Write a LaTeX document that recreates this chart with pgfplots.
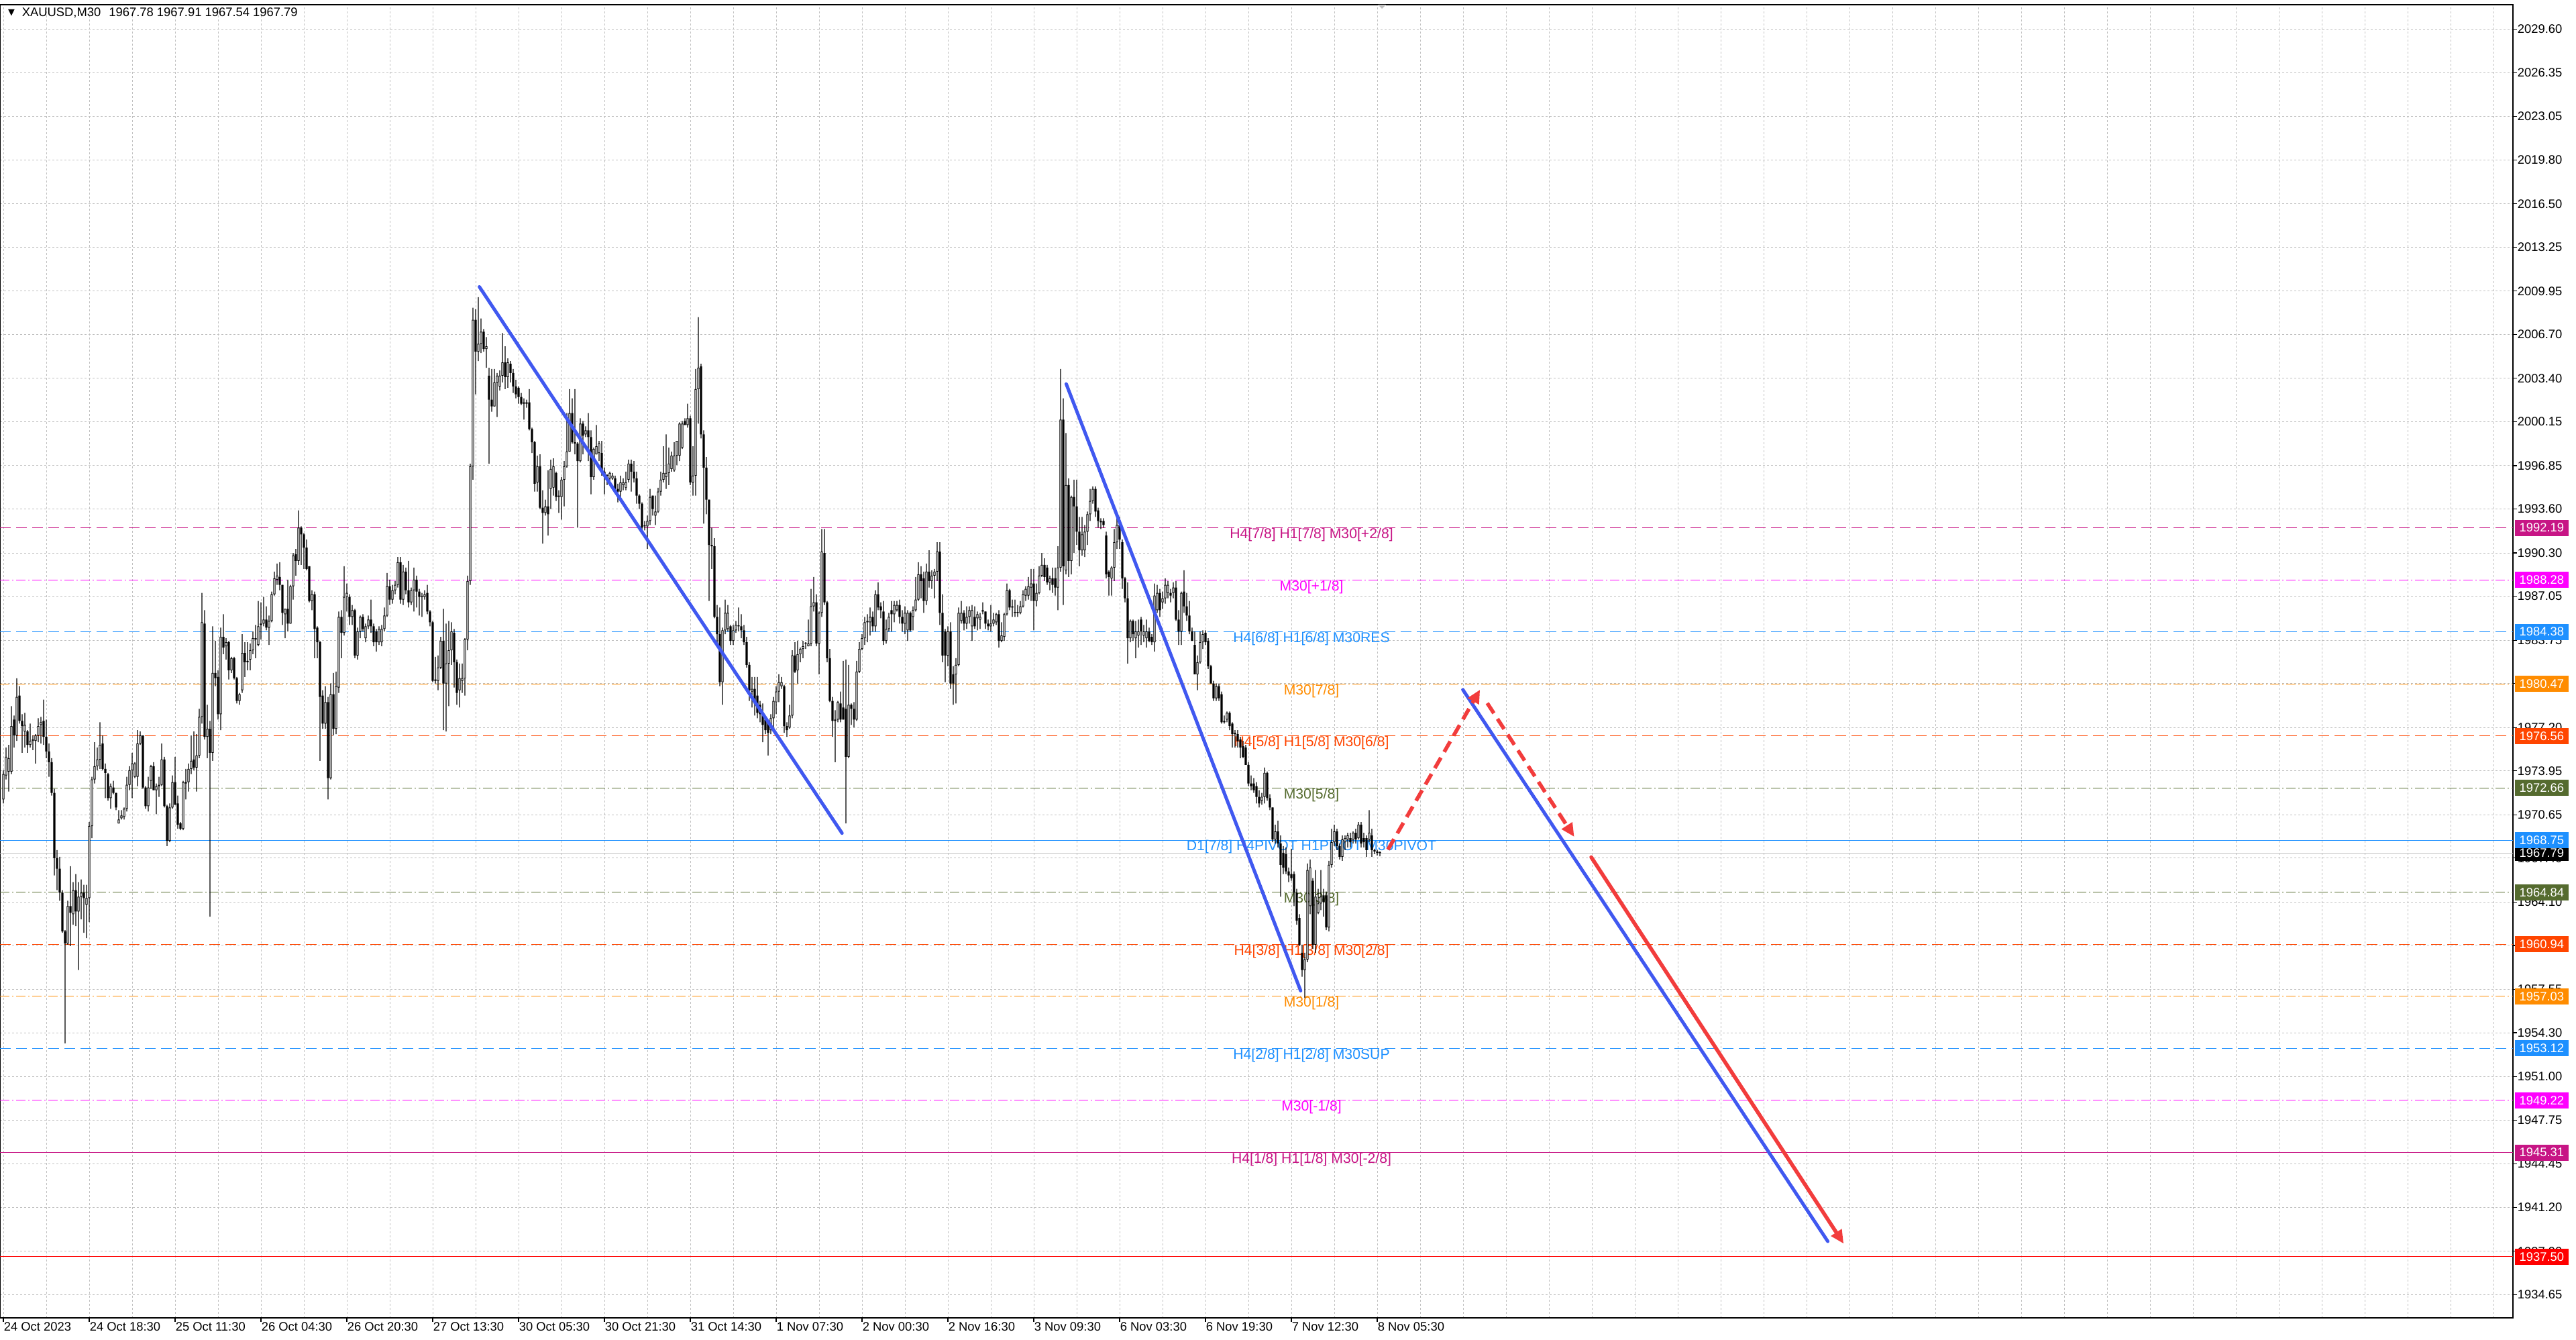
\documentclass[border=0pt]{standalone}
\usepackage{fontspec}
\setmainfont{Liberation Sans}
\newfontfamily\symfont{DejaVu Sans}
\usepackage{pgfplots}
\pgfplotsset{compat=1.18}
\usepackage{pgfplotstable}
\usetikzlibrary{arrows.meta}
\definecolor{mvr}{RGB}{199,21,133}
\definecolor{mag}{RGB}{255,0,255}
\definecolor{dblue}{RGB}{30,144,255}
\definecolor{dorange}{RGB}{255,140,0}
\definecolor{ored}{RGB}{255,69,0}
\definecolor{lvlolive}{RGB}{85,107,47}
\definecolor{silver}{RGB}{192,192,192}
\definecolor{tlblue}{RGB}{64,88,240}
\definecolor{tlred}{RGB}{242,60,60}
\newcommand\tf{\fontsize{4.6}{5}\selectfont}
\newcommand\lf{\fontsize{5.3}{6}\selectfont}
\pgfplotsset{frame/.style={at={(0pt,8pt)}, anchor=south west, scale only axis, width=936.5pt, height=489.25pt,
  xmin=-1.25, xmax=935.25, ymin=1932.90, ymax=2031.44, clip=false}}
\pgfplotstableread{
i o h l c
0 1971.8 1974.0 1971.5 1973.7
1 1973.6 1975.7 1973.3 1975.0
2 1973.9 1975.9 1972.4 1974.9
3 1973.9 1978.8 1973.7 1977.3
4 1977.8 1978.1 1975.7 1976.6
5 1976.6 1980.9 1976.2 1979.5
6 1979.6 1980.3 1977.5 1977.7
7 1977.7 1978.2 1975.3 1977.3
8 1976.9 1978.3 1975.7 1977.4
9 1976.9 1977.0 1975.3 1975.9
10 1975.9 1977.5 1975.7 1976.2
11 1976.2 1976.6 1975.5 1976.3
12 1976.2 1976.7 1974.5 1976.6
13 1976.6 1977.9 1976.1 1977.3
14 1977.4 1978.0 1976.0 1977.6
15 1977.7 1979.3 1975.9 1976.5
16 1976.5 1977.8 1974.9 1975.4
17 1975.4 1976.0 1973.5 1974.6
18 1974.6 1974.9 1972.1 1972.3
19 1972.3 1972.6 1966.1 1967.4
20 1967.4 1968.0 1965.0 1966.6
21 1966.6 1967.5 1964.2 1964.8
22 1964.8 1965.0 1961.8 1961.9
23 1961.9 1962.0 1953.5 1961.0
24 1961.0 1964.2 1960.9 1963.8
25 1963.8 1966.8 1960.8 1963.3
26 1963.2 1965.6 1962.4 1965.0
27 1965.0 1966.2 1962.3 1963.4
28 1963.4 1965.6 1959.0 1964.5
29 1964.5 1965.8 1962.8 1964.8
30 1964.8 1965.4 1961.8 1964.4
31 1963.9 1965.4 1961.4 1964.4
32 1964.4 1970.1 1962.6 1969.8
33 1969.8 1973.5 1968.9 1973.3
34 1973.3 1976.1 1973.0 1974.3
35 1974.3 1975.7 1974.0 1974.8
36 1974.8 1977.6 1974.1 1975.9
37 1976.0 1976.6 1974.0 1974.1
38 1974.1 1974.5 1971.9 1973.8
39 1973.7 1973.8 1971.7 1971.9
40 1971.9 1973.0 1971.1 1972.8
41 1972.7 1973.2 1972.2 1972.3
42 1972.3 1972.3 1971.0 1971.2
43 1970.0 1971.0 1970.0 1970.3
44 1970.4 1971.0 1970.3 1970.6
45 1970.5 1971.2 1970.3 1971.1
46 1971.1 1973.5 1970.9 1972.9
47 1972.9 1974.3 1972.5 1974.0
48 1974.0 1975.3 1971.9 1974.5
49 1973.5 1974.6 1973.4 1974.5
50 1973.5 1977.0 1972.8 1976.0
51 1976.0 1976.9 1975.9 1976.6
52 1976.6 1976.6 1972.6 1972.7
53 1972.7 1972.8 1971.1 1971.3
54 1971.3 1973.5 1970.9 1972.7
55 1973.2 1974.4 1972.6 1974.3
56 1974.3 1974.6 1972.5 1972.5
57 1972.5 1973.0 1970.7 1972.8
58 1972.8 1973.5 1972.0 1972.9
59 1972.9 1976.0 1972.8 1974.8
60 1974.8 1975.0 1971.2 1971.3
61 1971.3 1971.4 1968.3 1968.7
62 1968.7 1971.5 1968.6 1971.2
63 1971.2 1973.6 1971.1 1973.1
64 1973.1 1975.0 1971.4 1971.4
65 1971.5 1972.1 1969.6 1969.9
66 1970.0 1970.1 1969.5 1969.6
67 1969.6 1973.2 1969.5 1973.1
68 1973.0 1974.1 1971.8 1973.1
69 1973.1 1974.5 1972.4 1974.1
70 1974.1 1976.6 1973.7 1974.7
71 1974.8 1976.9 1974.0 1974.2
72 1974.2 1976.7 1972.4 1975.1
73 1975.1 1978.6 1974.9 1978.0
74 1978.0 1987.3 1977.5 1985.1
75 1985.0 1986.0 1976.3 1976.5
76 1976.5 1978.9 1974.9 1977.1
77 1977.1 1977.7 1963.0 1975.3
78 1975.3 1984.8 1974.7 1981.3
79 1981.3 1983.7 1980.3 1980.9
80 1981.0 1981.5 1977.8 1978.2
81 1978.2 1984.7 1977.0 1984.0
82 1984.0 1985.7 1982.7 1983.2
83 1983.3 1983.9 1982.3 1983.6
84 1983.6 1983.7 1980.8 1981.5
85 1981.5 1982.5 1981.3 1982.4
86 1982.4 1982.5 1980.8 1980.9
87 1980.9 1981.0 1979.0 1979.2
88 1979.2 1979.8 1978.9 1979.7
89 1980.0 1984.2 1979.8 1982.8
90 1982.8 1983.6 1981.0 1982.1
91 1982.1 1983.6 1981.5 1982.2
92 1982.3 1983.5 1981.5 1983.0
93 1983.0 1984.4 1982.7 1983.9
94 1983.8 1984.9 1982.4 1983.9
95 1983.4 1986.7 1983.3 1984.8
96 1984.9 1986.6 1983.8 1985.0
97 1985.0 1987.0 1984.8 1985.3
98 1985.3 1986.3 1984.5 1984.7
99 1984.7 1985.6 1983.4 1985.2
100 1985.2 1987.4 1985.1 1987.2
101 1987.2 1988.9 1987.1 1988.4
102 1988.3 1989.5 1987.9 1988.6
103 1988.5 1989.6 1987.5 1987.9
104 1987.9 1987.9 1984.9 1985.8
105 1985.7 1986.1 1983.9 1986.1
106 1986.1 1988.3 1984.4 1985.0
107 1985.0 1987.9 1985.0 1987.8
108 1987.8 1990.3 1986.8 1990.1
109 1990.2 1990.6 1988.6 1989.7
110 1989.7 1993.5 1989.4 1992.2
111 1992.2 1992.3 1989.4 1991.7
112 1991.7 1991.8 1989.1 1990.7
113 1990.7 1991.3 1989.0 1989.1
114 1989.3 1989.3 1986.6 1986.7
115 1986.7 1987.5 1986.0 1987.2
116 1987.2 1987.4 1982.4 1984.6
117 1984.7 1984.8 1982.4 1983.6
118 1983.6 1983.7 1974.7 1979.5
119 1979.6 1980.0 1977.1 1977.5
120 1977.5 1980.3 1977.1 1979.1
121 1979.1 1979.5 1971.8 1973.4
122 1973.4 1980.5 1973.3 1979.7
123 1979.7 1981.3 1976.6 1977.1
124 1977.1 1981.4 1976.7 1980.3
125 1980.2 1985.9 1979.8 1985.5
126 1985.5 1986.0 1982.4 1984.3
127 1984.3 1989.3 1984.1 1987.0
128 1987.0 1988.0 1985.9 1987.3
129 1987.0 1987.2 1984.9 1985.5
130 1985.5 1986.4 1984.9 1986.0
131 1986.0 1986.1 1982.4 1982.6
132 1982.6 1984.7 1982.3 1984.4
133 1984.4 1985.6 1983.9 1985.5
134 1985.5 1985.7 1984.4 1984.6
135 1983.9 1985.0 1983.6 1984.8
136 1984.8 1985.6 1984.6 1985.3
137 1985.3 1986.8 1984.3 1984.8
138 1984.8 1985.0 1983.3 1983.6
139 1984.4 1984.6 1982.9 1983.6
140 1983.6 1984.8 1983.4 1984.6
141 1983.6 1984.9 1983.3 1984.6
142 1984.6 1986.2 1984.4 1985.6
143 1985.6 1988.8 1985.5 1987.8
144 1987.8 1988.3 1986.4 1986.8
145 1986.8 1987.9 1986.5 1987.5
146 1987.5 1988.2 1987.2 1987.9
147 1987.9 1990.0 1987.7 1989.6
148 1989.6 1990.0 1986.5 1986.8
149 1986.8 1989.4 1986.4 1988.9
150 1988.9 1989.2 1987.2 1987.5
151 1987.5 1989.7 1986.2 1986.6
152 1986.6 1987.7 1986.4 1987.5
153 1987.5 1989.2 1985.9 1988.3
154 1988.3 1988.6 1986.2 1987.4
155 1987.4 1987.6 1985.6 1987.0
156 1987.0 1987.3 1985.5 1987.0
157 1987.0 1987.5 1986.8 1987.2
158 1987.3 1987.9 1985.7 1985.9
159 1985.9 1986.0 1984.8 1985.1
160 1985.1 1985.2 1980.6 1980.7
161 1980.7 1982.5 1980.5 1980.8
162 1980.7 1982.6 1980.0 1981.7
163 1981.7 1984.0 1981.6 1983.7
164 1983.7 1986.1 1977.0 1980.5
165 1980.5 1985.0 1976.9 1982.0
166 1982.0 1985.2 1978.8 1983.0
167 1983.0 1985.1 1981.9 1984.4
168 1984.3 1984.6 1980.2 1982.1
169 1982.1 1982.3 1978.9 1979.8
170 1980.0 1982.0 1978.7 1980.9
171 1980.7 1982.0 1979.8 1980.9
172 1980.9 1983.9 1979.6 1983.8
173 1983.8 1988.6 1983.0 1988.2
174 1988.2 1997.0 1987.9 1996.8
175 1996.8 2008.7 1995.8 2007.8
176 2007.8 2008.6 2002.2 2005.4
177 2005.4 2009.5 2004.7 2006.0
178 2006.0 2007.9 2005.3 2006.9
179 2006.9 2007.1 2005.4 2005.6
180 2005.6 2006.5 2004.2 2005.8
181 2003.6 2004.2 1997.0 2001.8
182 2001.8 2004.1 2000.9 2001.3
183 2001.3 2004.1 2001.3 2003.1
184 2003.1 2003.8 2000.5 2003.6
185 2002.8 2004.0 2002.5 2003.6
186 2003.6 2006.8 2003.1 2004.6
187 2004.6 2005.8 2002.6 2003.5
188 2003.5 2004.9 2002.7 2004.6
189 2004.5 2004.7 2003.1 2003.8
190 2003.8 2004.1 2002.3 2002.8
191 2002.8 2003.3 2001.9 2002.2
192 2002.7 2002.8 2001.5 2002.0
193 2002.0 2002.3 2001.4 2001.5
194 2001.6 2001.9 2000.3 2001.5
195 2001.5 2001.8 2001.2 2001.6
196 2001.6 2002.6 1999.5 1999.6
197 1999.6 1999.7 1997.8 1998.6
198 1998.6 1998.7 1994.9 1995.5
199 1995.6 1997.6 1994.9 1996.8
200 1996.8 1997.7 1993.6 1993.7
201 1993.7 1995.0 1991.0 1993.3
202 1993.3 1994.3 1993.1 1993.8
203 1993.8 1996.5 1991.6 1993.2
204 1995.1 1997.3 1993.6 1996.6
205 1995.2 1997.4 1994.6 1996.8
206 1996.3 1996.4 1994.2 1994.5
207 1994.5 1995.0 1993.3 1994.6
208 1994.5 1996.0 1992.8 1995.8
209 1995.8 1997.2 1993.8 1996.8
210 1996.8 2000.8 1996.7 1997.9
211 1997.9 2002.6 1997.9 2000.8
212 2000.8 2001.9 1998.5 1998.6
213 1998.6 2002.6 1997.7 1998.5
214 1998.5 1998.6 1992.2 1997.2
215 1997.2 2000.4 1997.1 2000.0
216 2000.0 2000.2 1997.7 1999.1
217 1999.2 1999.8 1999.0 1999.5
218 1999.5 2000.8 1997.2 1999.0
219 1999.0 1999.5 1994.7 1996.0
220 1996.0 1998.2 1995.8 1998.1
221 1997.7 1999.9 1997.7 1998.3
222 1997.8 1998.7 1997.2 1998.5
223 1997.8 1998.7 1996.1 1996.4
224 1996.4 1996.7 1994.7 1996.1
225 1996.1 1996.2 1995.4 1996.1
226 1995.9 1996.4 1995.6 1996.3
227 1995.9 1996.3 1995.8 1996.1
228 1995.9 1996.1 1995.0 1995.1
229 1995.1 1995.5 1994.1 1994.9
230 1994.9 1996.1 1994.3 1995.6
231 1995.4 1995.9 1995.0 1995.6
232 1995.2 1996.4 1995.0 1995.6
233 1995.8 1997.3 1995.6 1997.0
234 1997.0 1997.3 1994.9 1996.4
235 1996.4 1997.2 1995.6 1995.9
236 1995.9 1996.4 1994.0 1994.6
237 1994.6 1994.7 1993.6 1994.0
238 1994.0 1994.1 1992.0 1992.2
239 1992.3 1992.7 1992.0 1992.3
240 1992.3 1993.1 1990.6 1992.7
241 1992.7 1995.1 1992.4 1994.5
242 1994.6 1994.6 1993.1 1993.6
243 1993.1 1994.6 1992.4 1993.4
244 1993.4 1995.2 1993.3 1994.9
245 1994.9 1996.4 1994.6 1995.8
246 1995.8 1998.3 1995.6 1996.3
247 1996.0 1999.2 1995.1 1996.3
248 1996.3 1998.2 1995.4 1997.0
249 1996.6 1997.9 1996.4 1997.6
250 1996.5 1998.6 1996.4 1997.6
251 1997.6 1998.7 1996.9 1998.7
252 1997.6 2000.1 1997.2 2000.0
253 1998.2 2000.2 1998.1 2000.0
254 2000.2 2000.4 1999.9 1999.9
255 1999.9 2001.5 1999.7 2000.4
256 2000.4 2000.6 1995.4 1995.6
257 1995.6 1998.3 1994.6 1996.1
258 1996.1 2004.1 1994.6 2002.6
259 2002.6 2008.0 2000.0 2004.2
260 2004.3 2004.5 1998.9 1999.2
261 1999.2 1999.5 1992.5 1996.7
262 1996.7 1997.5 1993.2 1994.3
263 1994.3 1994.3 1986.7 1990.9
264 1990.9 1992.2 1989.1 1990.8
265 1990.8 1991.4 1985.4 1985.5
266 1985.5 1986.4 1983.4 1984.2
267 1984.2 1986.2 1980.3 1980.6
268 1980.6 1984.7 1978.9 1984.5
269 1984.5 1986.8 1984.2 1985.8
270 1984.6 1986.4 1984.4 1985.8
271 1984.8 1984.9 1983.4 1983.7
272 1983.7 1984.9 1983.4 1984.5
273 1984.5 1985.2 1984.3 1984.9
274 1984.8 1986.2 1984.4 1984.8
275 1984.8 1985.7 1983.9 1984.5
276 1984.5 1984.9 1983.4 1983.6
277 1983.6 1984.0 1981.7 1981.9
278 1981.9 1982.1 1979.2 1980.0
279 1979.9 1981.0 1978.7 1980.1
280 1980.1 1981.0 1978.1 1979.0
281 1979.6 1981.0 1977.9 1978.3
282 1978.9 1979.2 1977.6 1978.2
283 1978.3 1979.0 1976.1 1977.4
284 1977.8 1977.9 1976.7 1977.0
285 1977.7 1977.7 1975.1 1976.8
286 1977.0 1978.2 1976.7 1977.9
287 1977.9 1979.5 1977.2 1979.2
288 1979.1 1980.3 1978.2 1979.9
289 1979.9 1981.2 1979.1 1980.6
290 1980.3 1981.0 1980.1 1980.6
291 1980.3 1980.4 1976.8 1977.3
292 1977.3 1977.6 1976.5 1977.0
293 1977.2 1978.9 1977.1 1978.1
294 1978.1 1983.0 1977.9 1982.6
295 1982.6 1983.6 1981.3 1981.4
296 1981.5 1983.7 1980.5 1982.7
297 1982.7 1983.2 1982.1 1983.1
298 1983.1 1983.7 1982.4 1983.3
299 1983.5 1983.6 1983.1 1983.5
300 1983.3 1985.3 1983.3 1983.5
301 1983.5 1987.6 1983.3 1986.3
302 1986.3 1988.5 1985.9 1986.6
303 1986.6 1987.2 1983.3 1983.5
304 1983.5 1985.9 1981.2 1985.8
305 1985.8 1992.1 1985.5 1990.4
306 1990.3 1992.1 1986.4 1986.6
307 1986.6 1986.7 1982.1 1982.4
308 1982.4 1983.1 1979.1 1979.2
309 1979.2 1979.5 1976.5 1977.7
310 1977.7 1978.5 1974.6 1977.8
311 1977.8 1979.2 1977.6 1979.1
312 1979.0 1979.9 1977.6 1977.8
313 1978.7 1982.2 1977.8 1977.8
314 1978.6 1982.3 1970.0 1975.0
315 1975.0 1981.9 1974.9 1978.9
316 1978.9 1979.0 1977.4 1978.6
317 1978.6 1979.1 1977.2 1977.8
318 1977.8 1982.2 1977.7 1981.4
319 1981.4 1983.6 1981.3 1983.1
320 1983.1 1984.2 1983.0 1983.9
321 1983.9 1985.5 1983.4 1985.1
322 1985.1 1985.7 1983.6 1985.2
323 1985.1 1986.2 1984.1 1985.5
324 1985.5 1985.9 1984.4 1984.8
325 1984.8 1987.5 1984.4 1987.2
326 1987.2 1988.1 1986.0 1986.2
327 1986.3 1986.6 1985.4 1986.0
328 1985.9 1986.7 1983.4 1983.7
329 1983.7 1985.3 1983.5 1984.6
330 1984.6 1985.8 1984.4 1985.5
331 1986.0 1986.7 1984.4 1985.7
332 1985.7 1986.7 1985.1 1986.4
333 1986.0 1986.7 1985.9 1986.4
334 1986.4 1986.8 1985.0 1985.5
335 1985.5 1986.0 1984.4 1985.0
336 1985.0 1986.3 1984.2 1985.8
337 1984.5 1986.0 1983.7 1985.8
338 1985.8 1985.9 1984.4 1984.5
339 1985.5 1986.3 1984.5 1986.0
340 1986.0 1988.5 1985.9 1986.8
341 1986.8 1989.6 1986.7 1988.7
342 1988.7 1989.3 1986.9 1988.2
343 1988.4 1988.9 1985.8 1986.7
344 1986.7 1989.5 1986.4 1988.9
345 1988.9 1990.5 1987.7 1988.2
346 1988.2 1989.0 1987.6 1988.6
347 1988.6 1989.1 1986.9 1988.9
348 1988.9 1991.1 1988.2 1990.4
349 1990.4 1991.1 1984.9 1985.8
350 1985.8 1987.2 1982.1 1982.6
351 1984.4 1984.6 1980.6 1982.6
352 1982.6 1984.8 1981.8 1984.4
353 1984.4 1985.1 1980.1 1980.5
354 1981.2 1981.8 1978.9 1980.5
355 1981.2 1982.4 1979.0 1981.9
356 1981.9 1986.2 1981.8 1985.8
357 1985.2 1986.7 1985.0 1985.8
358 1985.8 1986.0 1984.5 1985.0
359 1985.0 1986.3 1984.6 1985.5
360 1985.5 1986.3 1985.0 1986.0
361 1984.8 1986.4 1983.7 1986.0
362 1985.5 1986.3 1984.6 1984.8
363 1985.4 1985.9 1984.5 1985.7
364 1985.3 1985.8 1984.6 1985.5
365 1986.0 1986.6 1985.7 1985.9
366 1985.9 1985.9 1984.6 1985.0
367 1985.0 1985.3 1984.5 1984.8
368 1984.8 1986.4 1984.4 1985.0
369 1985.0 1985.8 1984.8 1985.3
370 1985.1 1985.8 1984.9 1985.7
371 1985.7 1986.0 1983.2 1983.7
372 1983.7 1985.1 1983.6 1984.1
373 1984.0 1985.8 1983.7 1985.7
374 1985.7 1988.0 1985.6 1987.5
375 1987.5 1987.6 1986.0 1986.2
376 1986.3 1986.8 1985.5 1986.2
377 1985.8 1986.8 1985.5 1985.8
378 1985.8 1986.4 1985.5 1985.8
379 1985.8 1986.7 1985.7 1986.3
380 1986.3 1987.5 1986.2 1987.2
381 1987.1 1987.8 1986.7 1987.6
382 1987.1 1988.5 1986.8 1987.8
383 1987.7 1989.1 1986.7 1988.0
384 1988.0 1989.1 1984.5 1986.7
385 1986.7 1988.0 1986.3 1987.3
386 1987.3 1989.3 1987.2 1988.6
387 1988.6 1990.3 1988.5 1989.4
388 1989.4 1989.9 1988.2 1988.5
389 1989.2 1989.4 1987.9 1988.1
390 1988.1 1988.6 1987.5 1988.4
391 1988.4 1989.2 1987.3 1987.9
392 1988.4 1989.2 1987.1 1987.7
393 1987.7 1990.8 1986.0 1989.2
394 1989.2 2004.1 1988.9 2000.3
395 2000.3 2001.9 1986.4 1989.3
396 1989.0 1999.3 1988.7 1995.4
397 1995.4 1995.9 1988.5 1989.7
398 1989.7 1994.6 1988.7 1994.5
399 1994.5 1995.8 1990.3 1993.8
400 1993.8 1995.8 1990.9 1991.9
401 1991.9 1993.0 1989.3 1990.5
402 1990.5 1993.0 1990.1 1991.7
403 1990.5 1992.4 1990.0 1991.9
404 1991.9 1993.4 1990.9 1993.2
405 1993.2 1995.1 1992.7 1994.2
406 1994.2 1995.3 1994.0 1995.1
407 1995.1 1995.3 1993.0 1993.4
408 1993.5 1993.7 1992.2 1992.7
409 1992.7 1992.9 1992.1 1992.6
410 1992.7 1992.9 1992.2 1992.4
411 1991.6 1991.9 1988.4 1988.7
412 1988.9 1989.0 1987.1 1988.5
413 1988.4 1989.3 1987.1 1989.2
414 1989.2 1992.1 1988.2 1991.1
415 1991.1 1992.9 1990.6 1992.4
416 1992.4 1993.0 1990.6 1991.3
417 1991.1 1991.3 1987.6 1988.4
418 1988.4 1988.5 1986.6 1986.9
419 1986.9 1988.1 1982.0 1983.9
420 1983.9 1985.3 1983.6 1985.2
421 1985.2 1985.3 1983.7 1984.2
422 1983.9 1985.2 1982.4 1984.4
423 1984.1 1985.3 1983.2 1984.4
424 1985.3 1985.5 1983.4 1984.4
425 1984.1 1984.9 1983.6 1984.4
426 1983.9 1985.3 1983.2 1984.4
427 1984.4 1984.7 1983.6 1983.7
428 1984.0 1984.2 1983.4 1983.6
429 1983.6 1988.0 1982.9 1987.1
430 1986.0 1987.9 1985.8 1987.3
431 1987.3 1987.6 1985.5 1986.0
432 1986.6 1987.4 1986.1 1986.9
433 1986.9 1988.4 1986.5 1987.9
434 1987.3 1988.2 1986.9 1987.9
435 1987.3 1987.6 1986.6 1987.1
436 1987.3 1988.1 1986.9 1987.7
437 1987.7 1988.2 1985.2 1985.3
438 1985.3 1986.0 1983.4 1984.4
439 1984.4 1987.4 1983.4 1987.3
440 1987.4 1989.0 1985.8 1986.3
441 1986.3 1987.3 1985.2 1985.6
442 1985.6 1986.7 1984.2 1984.4
443 1984.4 1984.7 1983.7 1983.7
444 1983.4 1984.4 1981.2 1981.2
445 1981.2 1982.6 1980.0 1982.1
446 1982.1 1984.4 1982.0 1983.6
447 1983.6 1984.5 1983.1 1984.2
448 1984.3 1984.5 1983.4 1983.6
449 1983.7 1983.9 1981.6 1981.8
450 1981.8 1981.9 1980.5 1980.5
451 1980.5 1980.7 1979.2 1979.4
452 1979.4 1980.5 1979.2 1980.3
453 1980.3 1980.5 1979.2 1979.4
454 1979.7 1979.9 1977.5 1977.6
455 1977.7 1978.1 1977.5 1977.6
456 1977.8 1978.4 1977.6 1978.3
457 1978.3 1978.4 1977.0 1977.3
458 1977.5 1977.6 1975.7 1976.7
459 1976.8 1977.0 1975.7 1976.7
460 1976.7 1977.0 1975.7 1976.2
461 1976.3 1976.5 1974.9 1975.7
462 1975.8 1976.2 1974.9 1975.0
463 1975.7 1975.9 1974.4 1974.4
464 1974.4 1974.6 1972.8 1973.0
465 1973.0 1973.6 1972.5 1972.8
466 1973.0 1973.4 1972.3 1972.5
467 1972.8 1973.1 1971.5 1972.0
468 1972.0 1972.5 1971.2 1971.5
469 1971.7 1972.3 1971.4 1972.0
470 1972.0 1974.2 1971.5 1973.8
471 1973.8 1973.9 1971.7 1971.9
472 1971.9 1972.2 1971.0 1971.2
473 1971.2 1971.2 1968.6 1968.8
474 1968.8 1969.9 1968.5 1969.4
475 1969.4 1970.2 1968.2 1968.5
476 1968.5 1969.1 1964.5 1966.9
477 1967.8 1968.3 1966.2 1966.7
478 1967.7 1968.2 1966.2 1966.4
479 1966.4 1966.7 1965.6 1966.1
480 1966.2 1968.1 1965.7 1965.9
481 1966.2 1966.4 1963.8 1964.8
482 1964.8 1965.1 1962.4 1962.7
483 1962.9 1963.2 1960.8 1960.9
484 1960.3 1960.9 1958.5 1959.0
485 1959.0 1960.3 1956.9 1959.8
486 1959.8 1967.0 1959.6 1966.5
487 1963.8 1967.3 1963.2 1966.7
488 1965.7 1965.9 1960.6 1960.9
489 1960.9 1966.5 1960.3 1964.5
490 1963.3 1965.1 1963.2 1964.0
491 1964.0 1966.5 1963.5 1964.5
492 1964.6 1965.1 1963.0 1964.1
493 1964.6 1964.9 1962.0 1962.2
494 1962.2 1967.2 1961.9 1966.9
495 1966.9 1969.6 1966.7 1968.6
496 1968.6 1969.9 1968.3 1969.4
497 1969.4 1969.6 1968.0 1968.3
498 1968.3 1968.5 1967.3 1967.5
499 1967.5 1969.1 1967.2 1968.8
500 1968.6 1969.1 1968.0 1968.9
501 1968.8 1969.3 1968.2 1969.1
502 1968.9 1969.3 1968.2 1968.6
503 1968.8 1969.4 1968.5 1969.3
504 1969.3 1969.6 1968.5 1968.8
505 1968.9 1970.1 1968.8 1969.9
506 1969.9 1970.1 1968.2 1968.5
507 1968.9 1969.3 1968.2 1968.6
508 1968.9 1969.1 1967.5 1968.0
509 1968.8 1971.0 1968.6 1969.3
510 1969.1 1969.6 1967.5 1968.0
511 1968.0 1968.1 1967.7 1967.9
512 1967.9 1968.0 1967.6 1967.8
513 1967.78 1967.91 1967.54 1967.79
}\candles
\begin{document}
\begin{tikzpicture}
\path[use as bounding box] (0,0) rectangle (960pt,499pt);
% ---------- main axis: grid, ticks, levels, level texts
\begin{axis}[frame,
  axis line style={line width=0.35pt, black},
  tick align=outside,
  major tick length=1.5pt, minor tick length=0pt,
  tick style={black, line width=0.3pt},
  xtick pos=left, ytick pos=right, yticklabel pos=right,
  xtick={0,32,...,512},
  xticklabels={24 Oct 2023, 24 Oct 18:30, 25 Oct 11:30, 26 Oct 04:30, 26 Oct 20:30, 27 Oct 13:30, 30 Oct 05:30, 30 Oct 21:30, 31 Oct 14:30, 1 Nov 07:30, 2 Nov 00:30, 2 Nov 16:30, 3 Nov 09:30, 6 Nov 03:30, 6 Nov 19:30, 7 Nov 12:30, 8 Nov 05:30},
  minor xtick={0,16,...,928},
  ytick={1934.65,1937.90,1941.20,1944.45,1947.75,1951.00,1954.30,1957.55,1960.85,1964.10,1967.40,1970.65,1973.95,1977.20,1980.50,1983.75,1987.05,1990.30,1993.60,1996.85,2000.15,2003.40,2006.70,2009.95,2013.25,2016.50,2019.80,2023.05,2026.35,2029.60},
  yticklabels={1934.65,1937.90,1941.20,1944.45,1947.75,1951.00,1954.30,1957.55,1960.85,1964.10,1967.40,1970.65,1973.95,1977.20,1980.50,1983.75,1987.05,1990.30,1993.60,1996.85,2000.15,2003.40,2006.70,2009.95,2013.25,2016.50,2019.80,2023.05,2026.35,2029.60},
  xminorgrids=true, xmajorgrids=false, ymajorgrids=true,
  major grid style={silver, line width=0.25pt, dash pattern=on 0.75pt off 0.75pt},
  minor grid style={silver, line width=0.25pt, dash pattern=on 0.75pt off 0.75pt},
  xticklabel style={font=\tf, anchor=north west, inner sep=0pt},
  yticklabel style={font=\tf, anchor=west, inner sep=0pt},
]
\addplot[mvr, line width=0.25pt, dash pattern=on 3.9pt off 2.1pt] coordinates {(-1.25,1992.19) (935.25,1992.19)};
\addplot[mag, line width=0.25pt, dash pattern=on 3.5pt off 1pt on 0.5pt off 1pt] coordinates {(-1.25,1988.28) (935.25,1988.28)};
\addplot[dblue, line width=0.25pt, dash pattern=on 3.9pt off 2.1pt] coordinates {(-1.25,1984.38) (935.25,1984.38)};
\addplot[dorange, line width=0.25pt, dash pattern=on 3.5pt off 1pt on 0.5pt off 1pt] coordinates {(-1.25,1980.47) (935.25,1980.47)};
\addplot[ored, line width=0.25pt, dash pattern=on 3.9pt off 2.1pt] coordinates {(-1.25,1976.56) (935.25,1976.56)};
\addplot[lvlolive, line width=0.25pt, dash pattern=on 3.5pt off 1pt on 0.5pt off 1pt] coordinates {(-1.25,1972.66) (935.25,1972.66)};
\addplot[dblue, line width=0.25pt] coordinates {(-1.25,1968.75) (935.25,1968.75)};
\addplot[silver, line width=0.25pt] coordinates {(-1.25,1967.79) (935.25,1967.79)};
\addplot[lvlolive, line width=0.25pt, dash pattern=on 3.5pt off 1pt on 0.5pt off 1pt] coordinates {(-1.25,1964.84) (935.25,1964.84)};
\addplot[ored, line width=0.25pt, dash pattern=on 3.9pt off 2.1pt] coordinates {(-1.25,1960.94) (935.25,1960.94)};
\addplot[dorange, line width=0.25pt, dash pattern=on 3.5pt off 1pt on 0.5pt off 1pt] coordinates {(-1.25,1957.03) (935.25,1957.03)};
\addplot[dblue, line width=0.25pt, dash pattern=on 3.9pt off 2.1pt] coordinates {(-1.25,1953.12) (935.25,1953.12)};
\addplot[mag, line width=0.25pt, dash pattern=on 3.5pt off 1pt on 0.5pt off 1pt] coordinates {(-1.25,1949.22) (935.25,1949.22)};
\addplot[mvr, line width=0.25pt] coordinates {(-1.25,1945.31) (935.25,1945.31)};
\addplot[red, line width=0.25pt] coordinates {(-1.25,1937.50) (935.25,1937.50)};
\node[text=mvr, font=\lf, inner sep=0pt, yshift=-2.6pt] at (axis cs:487.5,1992.19) {H4[7/8] H1[7/8] M30[+2/8]};
\node[text=mag, font=\lf, inner sep=0pt, yshift=-2.6pt] at (axis cs:487.5,1988.28) {M30[+1/8]};
\node[text=dblue, font=\lf, inner sep=0pt, yshift=-2.6pt] at (axis cs:487.5,1984.38) {H4[6/8] H1[6/8] M30RES};
\node[text=dorange, font=\lf, inner sep=0pt, yshift=-2.6pt] at (axis cs:487.5,1980.47) {M30[7/8]};
\node[text=ored, font=\lf, inner sep=0pt, yshift=-2.6pt] at (axis cs:487.5,1976.56) {H4[5/8] H1[5/8] M30[6/8]};
\node[text=lvlolive, font=\lf, inner sep=0pt, yshift=-2.6pt] at (axis cs:487.5,1972.66) {M30[5/8]};
\node[text=dblue, font=\lf, inner sep=0pt, yshift=-2.6pt] at (axis cs:487.5,1968.75) {D1[7/8] H4PIVOT H1PIVOT M30PIVOT};
\node[text=lvlolive, font=\lf, inner sep=0pt, yshift=-2.6pt] at (axis cs:487.5,1964.84) {M30[3/8]};
\node[text=ored, font=\lf, inner sep=0pt, yshift=-2.6pt] at (axis cs:487.5,1960.94) {H4[3/8] H1[3/8] M30[2/8]};
\node[text=dorange, font=\lf, inner sep=0pt, yshift=-2.6pt] at (axis cs:487.5,1957.03) {M30[1/8]};
\node[text=dblue, font=\lf, inner sep=0pt, yshift=-2.6pt] at (axis cs:487.5,1953.12) {H4[2/8] H1[2/8] M30SUP};
\node[text=mag, font=\lf, inner sep=0pt, yshift=-2.6pt] at (axis cs:487.5,1949.22) {M30[-1/8]};
\node[text=mvr, font=\lf, inner sep=0pt, yshift=-2.6pt] at (axis cs:487.5,1945.31) {H4[1/8] H1[1/8] M30[-2/8]};
\coordinate (b1) at (axis cs:935.25,1992.19);
\coordinate (b2) at (axis cs:935.25,1988.28);
\coordinate (b3) at (axis cs:935.25,1984.38);
\coordinate (b4) at (axis cs:935.25,1980.47);
\coordinate (b5) at (axis cs:935.25,1976.56);
\coordinate (b6) at (axis cs:935.25,1972.66);
\coordinate (b7) at (axis cs:935.25,1968.75);
\coordinate (b8) at (axis cs:935.25,1967.79);
\coordinate (b9) at (axis cs:935.25,1964.84);
\coordinate (b10) at (axis cs:935.25,1960.94);
\coordinate (b11) at (axis cs:935.25,1957.03);
\coordinate (b12) at (axis cs:935.25,1953.12);
\coordinate (b13) at (axis cs:935.25,1949.22);
\coordinate (b14) at (axis cs:935.25,1945.31);
\coordinate (b15) at (axis cs:935.25,1937.50);
\coordinate (tl) at (rel axis cs:0,1);
\coordinate (shiftm) at (axis cs:513.75,2031.44);
\end{axis}
% ---------- candle wicks
\begin{axis}[frame, hide axis, ybar stacked, bar shift=0pt]
\addplot[draw=none, fill=none, bar width=0.3pt] table[x=i, y=l] {\candles};
\addplot[draw=none, fill=black, bar width=0.3pt] table[x=i, y expr={\thisrow{h}-\thisrow{l}}] {\candles};
\end{axis}
% ---------- candle bodies
\begin{axis}[frame, hide axis, ybar stacked, bar shift=0pt]
\addplot[draw=none, fill=none, bar width=0.8pt] table[x=i, y expr={min(\thisrow{o},\thisrow{c})}] {\candles};
\addplot[draw=none, fill=black, bar width=0.8pt] table[x=i, y expr={max(abs(\thisrow{c}-\thisrow{o}),0.06)}] {\candles};
\end{axis}
% ---------- white interiors of rising candles
\begin{axis}[frame, hide axis, ybar stacked, bar shift=0pt]
\addplot[draw=none, fill=none, bar width=0.3pt] table[x=i, y expr={min(\thisrow{o},\thisrow{c})+0.05}] {\candles};
\addplot[draw=none, fill=white, bar width=0.3pt] table[x=i, y expr={\thisrow{c}>\thisrow{o} ? max(\thisrow{c}-\thisrow{o}-0.1,0) : 0}] {\candles};
\end{axis}
% ---------- trend lines and arrows
\begin{axis}[frame, hide axis]
\addplot[tlblue, line width=1.25pt, line cap=round] coordinates {(177.4,2010.27) (312.55,1969.27)};
\addplot[tlblue, line width=1.25pt, line cap=round] coordinates {(396.1,2002.98) (483.45,1957.45)};
\addplot[tlblue, line width=1.25pt, line cap=round] coordinates {(543.9,1980.04) (679.9,1938.64)};
\addplot[tlred, line width=1.4pt, dash pattern=on 4.5pt off 2.5pt, -{Triangle[length=5pt,width=4.5pt]}] coordinates {(516.0,1968.04) (550.3,1980.04)};
\addplot[tlred, line width=1.4pt, dash pattern=on 4.5pt off 2.5pt, -{Triangle[length=5pt,width=4.5pt]}] coordinates {(553.0,1979.03) (585.4,1969.0)};
\addplot[tlred, line width=1.4pt, line cap=round, -{Triangle[length=5pt,width=4.5pt]}] coordinates {(591.75,1967.47) (685.8,1938.47)};
\end{axis}
\tikzset{pbox/.style={anchor=west, text=white, font=\tf, inner sep=0pt, minimum width=20pt, minimum height=6pt, xshift=0.5pt}}
\node[pbox, fill=mvr] at (b1) {1992.19};
\node[pbox, fill=mag] at (b2) {1988.28};
\node[pbox, fill=dblue] at (b3) {1984.38};
\node[pbox, fill=dorange] at (b4) {1980.47};
\node[pbox, fill=ored] at (b5) {1976.56};
\node[pbox, fill=lvlolive] at (b6) {1972.66};
\node[pbox, fill=black] at (b8) {1967.79};
\node[pbox, fill=dblue] at (b7) {1968.75};
\node[pbox, fill=lvlolive] at (b9) {1964.84};
\node[pbox, fill=ored] at (b10) {1960.94};
\node[pbox, fill=dorange] at (b11) {1957.03};
\node[pbox, fill=dblue] at (b12) {1953.12};
\node[pbox, fill=mag] at (b13) {1949.22};
\node[pbox, fill=mvr] at (b14) {1945.31};
\node[pbox, fill=red] at (b15) {1937.50};
\node[anchor=west, font=\tf, inner sep=0pt, xshift=8pt, yshift=-3pt] at (tl) {XAUUSD,M30\hspace{3pt}1967.78 1967.91 1967.54 1967.79};
\node[anchor=west, font={\symfont\fontsize{3.2}{4}\selectfont}, inner sep=0pt, xshift=2.8pt, yshift=-3pt] at (tl) {▼};
\fill[silver] (shiftm) ++(-1.5pt,0) -- ++(3pt,0) -- ++(-1.5pt,-1.5pt) -- cycle;
\end{tikzpicture}
\end{document}
